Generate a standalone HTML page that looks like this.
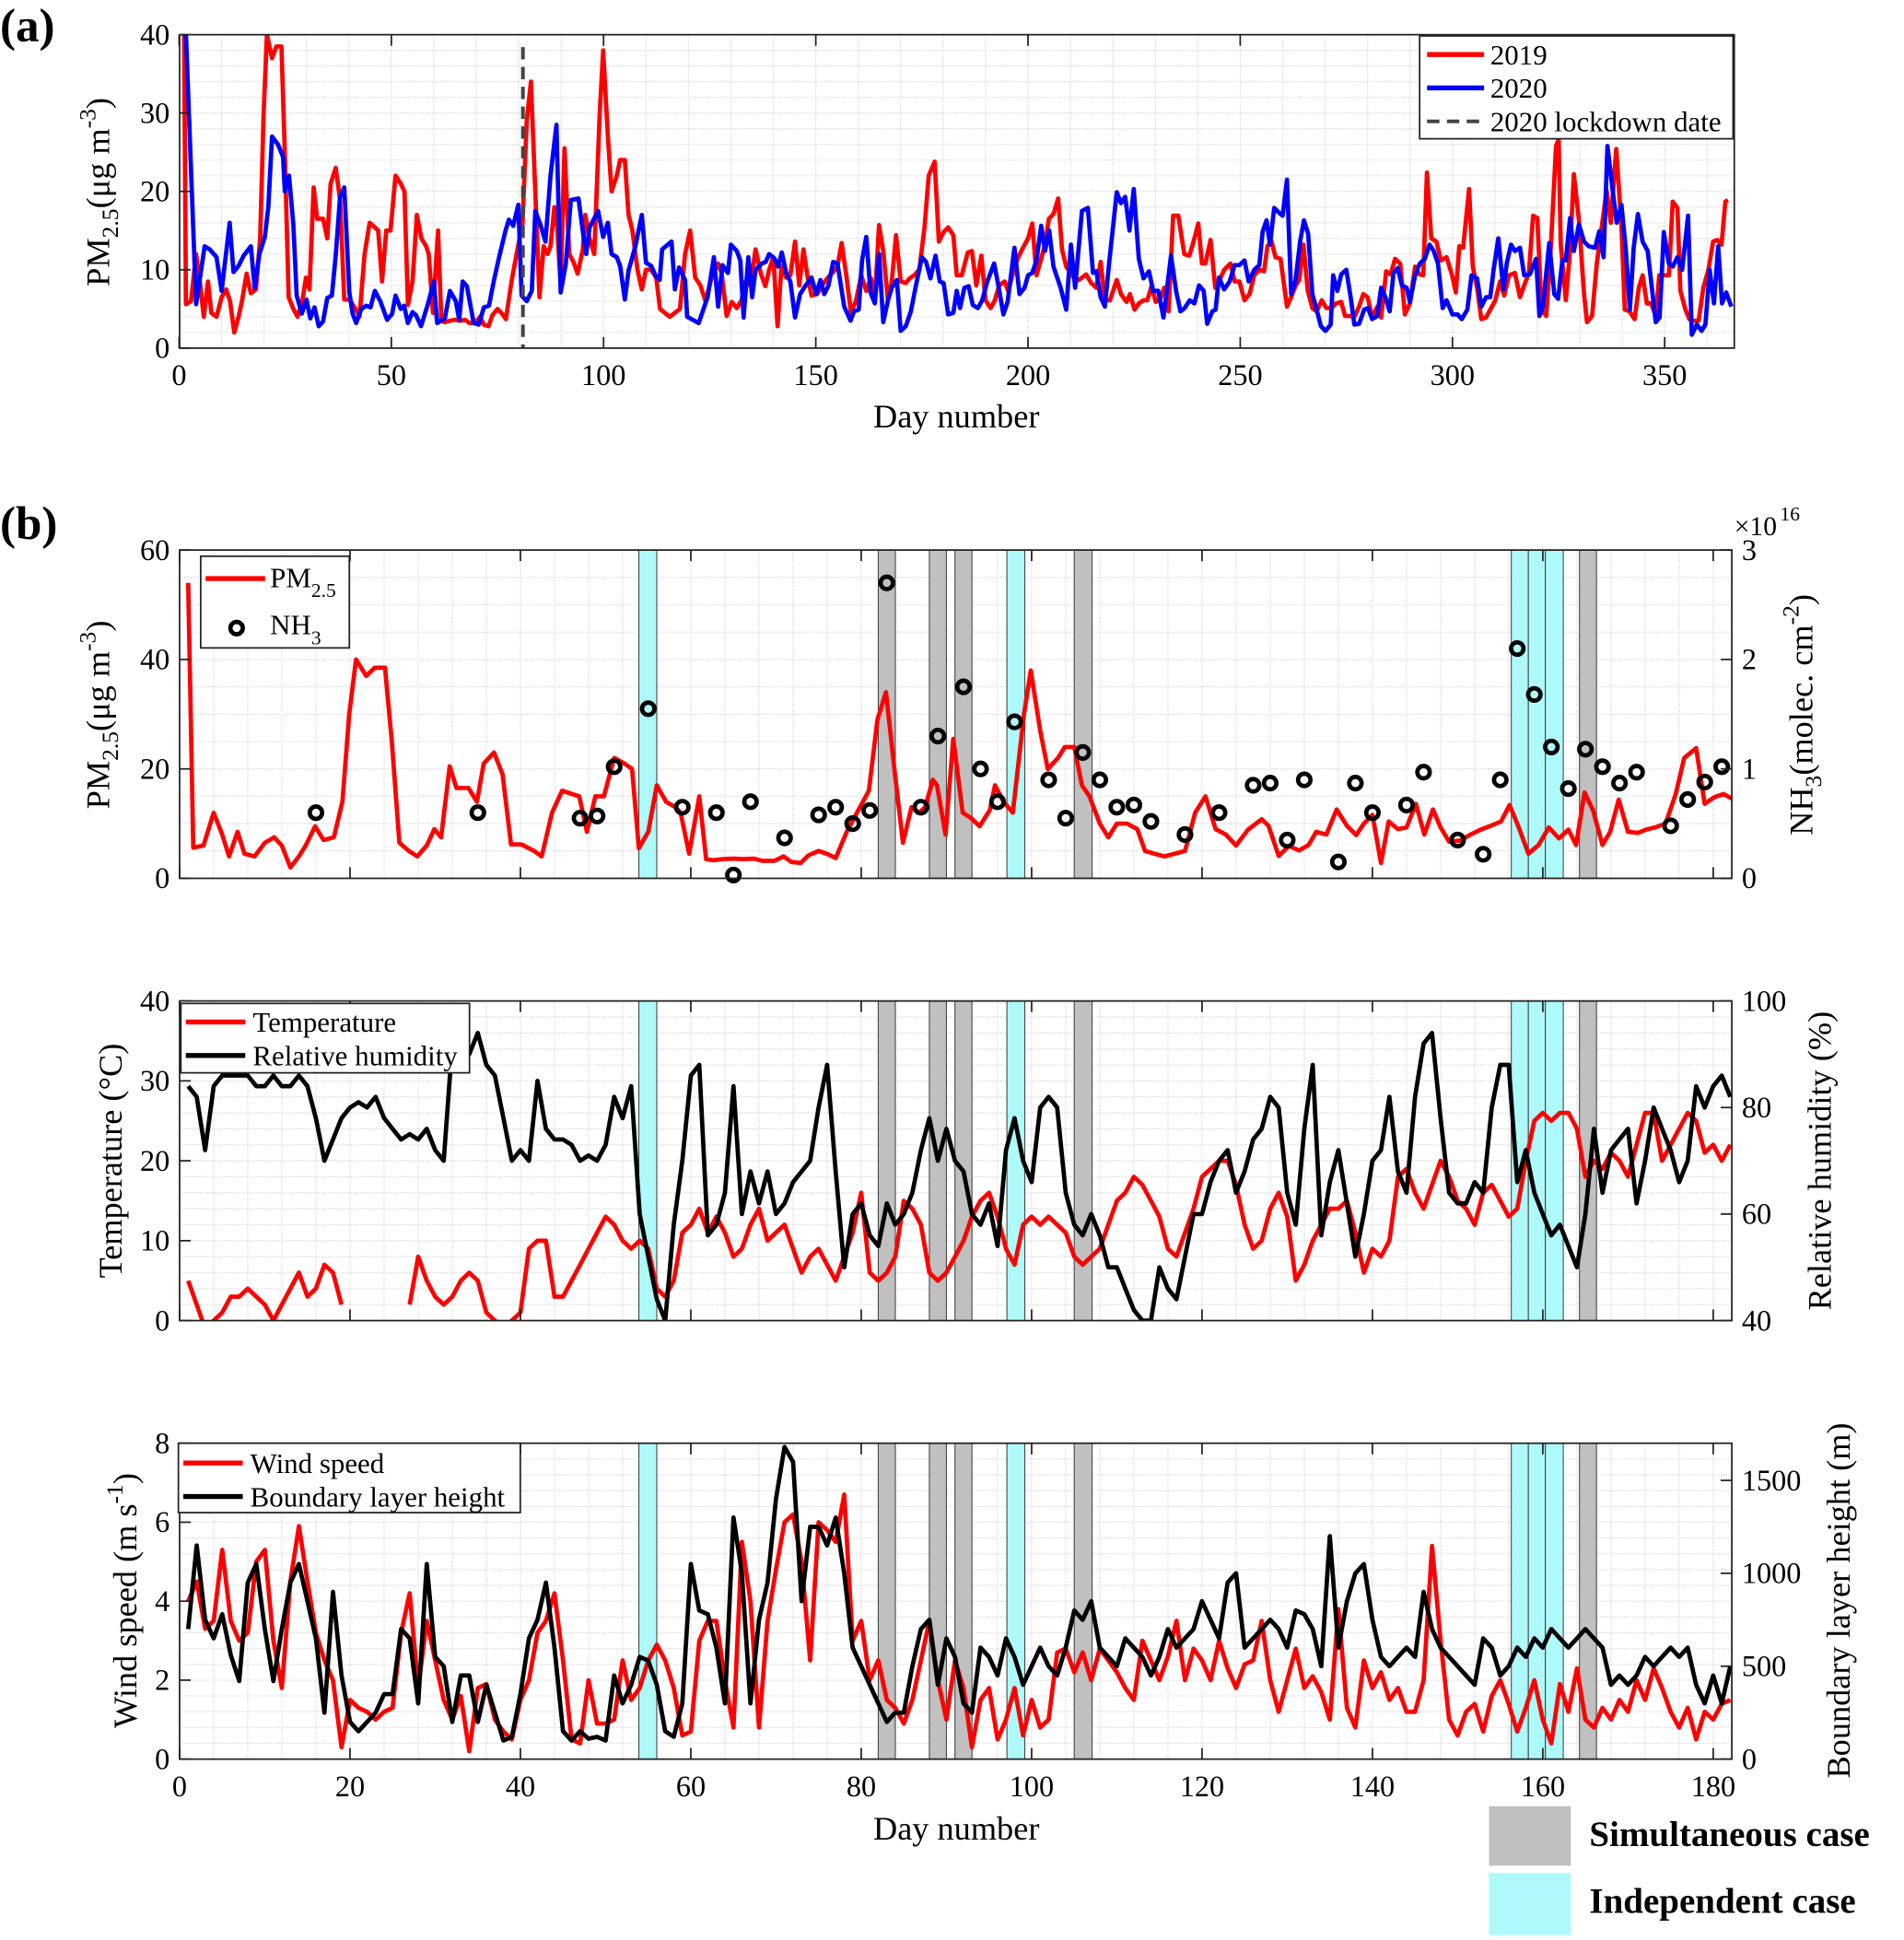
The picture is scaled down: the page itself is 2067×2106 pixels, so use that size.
<!DOCTYPE html>
<html><head><meta charset="utf-8"><style>
html,body{margin:0;padding:0;background:#fff}
svg{display:block}
text{font-family:"Liberation Serif",serif;fill:#000}
</style></head><body>
<svg id="chart" width="2067" height="2106" viewBox="0 0 1537 1566" preserveAspectRatio="none" xmlns="http://www.w3.org/2000/svg">
</svg>
<script>
// ---------- DATA ----------
const pm2019Days = [1,1.6,2.8,4,5,5.8,6.8,7.6,8.8,10,11.1,12,13,14,14.8,15.9,16.9,18.1,19.1,19.9,20.7,21.9,22.9,24.1,24.9,25.8,26.9,27.9,29,29.9,30.7,31.7,32.5,33.9,34.9,35.7,36.9,37.9,38.9,40.1,41.6,42.5,43.7,44.9,46.9,47.8,48.8,49.8,51,52.2,53.1,53.9,55,56,57.1,58.2,58.8,59.8,61,61.8,62.6,63.8,65,66.2,67.4,68.4,69.8,70.9,71.8,72.9,73.8,75,76.1,77,78.3,79.5,80.9,81.9,82.9,83.9,84.9,85.9,86.8,87.5,88.4,88.9,89.9,90.8,91.9,92.9,93.9,95.1,95.7,96.7,97.8,99.1,99.9,101,101.9,103.1,103.9,105,105.9,106.8,108,109,110,111.2,112.4,113.3,114.4,115.6,116.8,118,119.2,120.4,121.6,122.8,
124,125.4,127,127.8,129,130.2,131.4,132.5,133.4,134.6,135.8,137,138.1,139,140,141,141.9,143,144,145.1,146.1,147.1,148,149,150.3,151.5,152.7,153.9,155.1,156.1,157.1,158.3,159.5,160.7,161.9,163,163.9,164.9,165.9,167,167.9,168.9,170,171.2,172.1,173.2,174.4,175.6,176.6,178,179,180.1,181.2,182.4,183.2,184.4,185.8,186.8,187.8,189,190,191.2,192.2,193.2,194.5,195.3,196.7,197.7,198.8,200,201,202,203.1,204,204.9,206,207.1,208,209,210.1,211.3,212.5,213.7,214.9,216.1,217.1,218.1,219.3,220.9,221.9,223.2,224,225.1,226.1,227.2,228.1,229.1,230.1,231.2,232.1,233.1,234.2,235.4,236.8,238,239,240.1,241,241.8,243,244.1,245,246.2,247.7,248.7,249.8,251,252.2,253.3,254.5,255.6,256.4,257.4,258.3,259.5,261,262,263,263.9,264.9,265.9,267,268,269.2,270.3,271.5,272.6,273.8,274.7,276,277,278,279,280,281.1,282.3,283.2,284.4,285.4,286.5,287.7,288.8,290,291.2,292.2,293.1,294,295,296.2,297.3,298.6,299.9,300.8,301.6,302.5,303.9,304.8,305.8,306.8,307.9,308.9,310.1,311.2,312.2,313.3,314.7,315.9,316.9,318,319,320,321,322.1,323.2,324.4,325,325.5,326.7,327.7,328.6,329.8,331,331.7,332.9,334,335.2,336.3,337.3,338.6,339.8,340.6,341.7,342.9,343.9,344.8,345.8,346.8,347.9,348.7,349.8,351,351.9,353,353.7,354.9,355.8,356.8,358,359.1,360.3,361.4,362.4,363.4,364.3,364.9];
const pm2019Vals = [54,5.6,6,12,8,4,8.5,4.5,4,6.5,7.5,6,2,4,6,9.5,7,7.5,14,30,40,37,38.5,38.5,25,6.5,5,4,6,9,7.5,20.5,16.5,16.5,14,21,23,19,6.2,6.2,5,4,12,16,15,8.5,15,15,22,21,20,5.5,8.5,17,14,13,12,4.5,15,3.5,3.3,3.5,3.6,3.5,3.6,3.2,3.2,4,3,2.8,4.2,5,4.4,3.7,8.5,12,16,29,34,20,6.5,13,12,13,18,17,8,25.5,12,11,9.5,12.5,17,14,12,30,38,27,20,22,24,24,17,15,10,7.5,10,10,9,5,4.5,4,4.5,5,12,15,9,8,
6,8.9,10.8,9.6,4.1,5.9,5.1,6.1,8.5,8,12.6,9.6,7.9,10,11.6,2.8,10.4,9,9.3,13.6,8,12.6,9.3,6.7,6.9,8,8.9,9.6,10.4,13.4,9.6,4.5,6.1,9.3,7.3,8.9,6.1,15.7,12.4,6.1,8.5,14.4,8.5,8.3,8.9,9.3,10,15.4,22,23.8,13.6,14.8,15.4,14.4,9.3,9.3,12.2,12.4,8,11.8,6.1,5.1,6.1,8,8.5,7.3,10,11.6,12.8,14,15.9,9.3,11.4,13.2,16.5,17.1,19.1,12.6,10.4,9.6,8.5,8.9,9.4,8.3,7.7,11,6.1,6.1,8.7,6.9,5.9,6.9,4.9,5.7,6.1,6.1,7.9,5.9,6.3,7.7,4.7,16.9,16.9,12,11.8,13.6,15.9,10.8,10.8,13.8,7.7,8.5,10,10.8,8.5,8.5,6.1,6.9,9.3,10,9.8,13,13.6,11.6,11.4,5.3,6.5,7.9,8.7,13.2,7.3,5.1,4.7,6.1,5.1,5.1,5.7,5.9,4.1,4.1,4.1,5.3,6.9,6.5,3.9,5.3,3.9,9.8,9.4,11.4,10.8,4.3,5.7,10.4,9.4,9.3,22.4,14,13.6,11.2,11.6,9.3,7.1,13,12.8,20.3,10.4,7.7,3.7,3.9,4.9,6.1,8.5,6.7,9.3,9.6,6.5,8,9.6,16.9,16.6,4.9,4.1,13.2,25.8,26.6,13.2,6.1,12.4,22.2,16.3,6.9,3.3,4.1,10.8,15.6,20.1,16,25.4,15.6,4.9,4.7,3.7,7.7,9.3,5.7,5.7,4.1,9.3,9.3,9.3,18.7,17.9,7.3,4.9,3.7,3.5,3.5,7.7,10,13.6,13.8,13.2,18.7,18.9];
const pm2020Days = [1,1.6,4,6,7.2,8.8,10,11.9,12.8,14,15.2,16.9,17.8,18.9,20.2,21,21.9,23.3,24.5,24.9,25.9,26.9,27.7,28.9,30,30.9,31.9,32.9,33.9,34.9,36,36.9,37.9,38.9,40.1,40.9,41.7,42.9,44.1,45.1,46.1,47.4,49,50.2,51,52.2,53,53.9,55,55.8,57,58.6,60,60.8,62.6,63.8,65.2,66,66.8,67.8,69.4,70.6,71.8,73,74.2,75.4,76.9,77.7,78.7,79.9,80.7,81.9,83.1,83.9,85.1,86.3,87.5,88.9,89.9,91.1,92.3,94.1,95.1,95.9,96.7,98.7,99.9,101,101.9,103.1,103.9,105,105.9,107.5,109,110,111.2,112.4,113.2,113.8,116,116.8,117.8,119.2,119.7,122.4,
124.5,126,127,128,129.3,130,131.4,132.2,133,134.1,135,135.8,137.3,138.2,139,140.3,141.1,142,143,144,145.1,146.3,147.5,149,150.1,151.1,152,153,154.1,155.1,156.7,158.2,159,160.1,160.9,161.9,162.9,163.9,164.9,165.9,167,167.9,169.1,170,171.2,172.4,173.6,175,176,177,178.2,179.2,180.1,181.2,182.4,183.2,184,185,186,187,188.2,189.2,190.4,192,193,194.2,195.2,196.8,198,199.2,200,201,202,203.1,204,205,206,207.7,209,210.1,211.1,212.7,214.1,215.3,216.1,217.1,218.1,219.1,220.9,221.9,222.9,223.9,224.9,226.1,227.2,228.5,229.5,230.7,231.9,233.7,234.9,235.9,236.9,238.1,239.2,240.3,241.4,242.2,243.4,244.2,245,246.2,247.5,248.7,249.8,251,252,253.3,254.5,255.3,256.2,257,258,259.1,260,261,262,263,264.1,265,266,267,268,269,270.1,271.3,271.9,272.9,273.8,275,276,276.9,278,279.2,280.1,281.1,282.3,283.2,284.2,285.2,286.1,287.1,288.1,289.2,290,291.2,292.3,293.5,294.6,295.6,296.6,297.7,298.6,300,301.2,302.2,303.5,304.5,305.8,306.8,307.9,308.9,309.7,310.8,312,312.8,313.8,314.7,315.9,316.9,318.2,319.7,320.5,321.3,322.8,324,324.9,325.9,326.7,327.7,328.6,329.8,331,332.1,333.6,334.6,335.6,336.5,337.7,338.7,339.8,340.8,341.8,342.7,343.7,344.8,346,347.9,348.8,349.8,351,351.9,353,354.1,355.5,356.4,357.6,358.7,359.6,360.6,361.6,362.6,363.5,364.5,365.7];
const pm2020Vals = [40,40,5.6,13,12.6,11.6,7.3,16,9.7,10.5,11.8,13,7.7,12,14.2,18,27,26,24.4,20,22,15.8,6.7,4.4,6.2,3.8,5.2,2.8,3.4,6.4,6.7,11.8,19.3,20.5,7.1,4.4,3.2,5,5.4,5.2,7.3,6,3.6,4.4,6.7,5,5.4,3.2,4.6,4.2,2.8,5.6,8.5,3.2,3.8,7.3,6,3.6,8.5,7.9,3.2,3,5.2,5.4,8.7,11.6,15,16.4,15.6,18.3,6.7,6,7.3,17.5,15.8,13.6,22,28.5,7.1,10.7,18.9,19.1,15,12,15.4,17.5,14.2,16,12,11.6,10.5,6.2,9.9,13,17,10.9,10.5,9.1,8.7,12.6,13.6,7.5,10.3,8.7,4,3.2,
6.5,11.6,5.3,10.6,9.6,13.2,12.4,11.2,3.9,11.6,6.5,10,10.8,11,12,11.4,10.4,12.2,9.6,8.5,3.9,6.9,7.9,9,6.9,8.7,6.9,8,11,10.8,5.3,3.5,4.7,4.9,11.2,14.2,7.1,5.7,12,3.3,6.1,7.7,8.7,2.2,2.8,4.7,8,11.6,11,8.9,11.8,8.5,8.3,4.3,4.5,7.3,5.1,7.7,7.9,5.5,5.1,6.1,8.5,10.8,8,4.3,5.9,12.8,6.9,7.7,9.3,9.6,11.2,15.6,12.4,15,10.4,7.7,4.9,13.2,7.7,17.5,17.9,9.6,9.8,6.5,5.3,10.8,19.9,18.5,19.3,15,20.3,11.4,8.9,9.8,7.3,7.3,3.9,11.8,7.3,4.7,5.1,6.1,5.7,8,7.3,3.1,4.7,4.9,9,7.5,8.5,10.6,10.6,11.2,8.5,10,10.6,14.9,16.3,13.2,17.9,17.3,16.9,21.5,6.9,8.5,13.6,16.3,14.6,6.9,4.9,2.8,2.2,3,9.3,7.3,9.4,10,6.5,3,3.1,4.9,5.1,3.7,4.1,7.7,6.5,4.7,9.6,10.2,8,7.7,5.9,9.3,10.8,11.4,13.2,12.4,10.8,5.1,6.1,4.3,4.3,3.7,4.9,9.3,8.9,5.3,6.5,6.5,10,14,7.5,10.8,13.2,12.4,12.8,9.3,9.4,11.4,4.1,5.3,13.4,6.9,6.3,11.2,11.2,16.6,12.4,15.8,13.6,13,12.8,14.9,11.6,25.8,20.3,16,18.3,12.8,4.9,12.8,17.1,13.6,12.4,3.3,3.9,14.8,10.8,10.4,11.6,10,16.9,1.7,3,2.2,3,10,5.7,13,5.7,7.1,5.3];
const nh3Days = [16,35,47,49,51,55,59,63,65,67,71,75,77,79,81,83,87,89,92,94,96,98,102,104,106,108,110,112,114,118,122,126,128,130,132,136,138,140,144,146,150,153,155,157,159,161,163,165,167,169,171,175,177,179,181];
const nh3Vals = [0.6,0.6,0.55,0.57,1.02,1.55,0.65,0.6,0.03,0.7,0.37,0.58,0.65,0.5,0.62,2.7,0.65,1.3,1.75,1.0,0.7,1.43,0.9,0.55,1.15,0.9,0.65,0.67,0.52,0.4,0.6,0.85,0.87,0.35,0.9,0.15,0.87,0.6,0.67,0.97,0.35,0.22,0.9,2.1,1.68,1.2,0.82,1.18,1.02,0.87,0.97,0.48,0.72,0.88,1.02];
const temp = [5,2,-1,0,1,3,3,4,3,2,0,2,4,6,3,4,7,6,2,null,null,null,null,null,null,null,2,8,5,3,2,3,5,6,5,1,0,-1,0,1,
9,10,10,3,3,5,7,9,11,13,12,10,9,10,9,4,3,5,11,12,14,11,13,11,8,9,12,14,10,11,12,9,6,8,9,7,5,8,11,16,
6,5,6,8,15,14,12,6,5,6,8,10,13,15,16,13,9,7,12,13,12,13,12,11,8,7,8,9,12,15,16,18,17,15,13,9,8,11,14,18,
19,20,20,17,12,9,10,14,16,13,5,7,10,12,14,14,15,11,6,9,8,10,18,19,16,14,17,20,18,15,14,12,16,17,15,13,14,20,25,26,
25,26,26,24,18,20,19,21,20,18,22,26,26,20,22,24,26,25,21,22,20,22];
const rh = [84,82,72,84,86,86,86,86,84,84,86,84,84,86,84,78,70,74,78,80,81,80,82,78,76,74,75,74,76,72,70,92,92,90,94,88,86,78,70,72,
70,85,76,74,74,73,70,71,70,73,82,78,84,60,52,44,40,58,70,86,88,56,58,64,84,60,68,62,68,60,62,66,68,70,80,88,68,50,60,62,
56,54,62,58,60,64,72,78,70,76,70,68,60,58,62,54,72,78,70,66,80,82,80,64,58,56,60,56,50,50,46,42,40,40,50,46,44,52,60,60,
66,70,72,64,68,74,76,82,80,64,58,76,88,56,66,72,62,52,60,70,72,82,68,64,82,92,94,78,64,62,62,66,64,80,88,88,66,72,64,60,
56,58,54,50,60,76,64,72,74,76,62,70,80,76,72,66,70,84,80,84,86,82];
const wind = [4.0,4.5,3.3,3.5,5.3,3.5,3.0,3.2,5.0,5.3,3.0,1.8,4.5,5.9,4.5,3.2,2.5,2.0,0.3,1.5,1.3,1.2,1.0,1.2,1.3,3.2,4.2,1.8,3.5,2.5,1.5,1.0,1.6,0.2,1.8,1.9,1.0,0.7,0.5,1.5,
2.0,3.2,3.5,4.2,2.5,0.5,0.4,2.0,0.9,0.9,1.0,2.5,1.5,1.8,2.5,2.9,2.5,1.8,0.6,0.7,3.0,3.5,3.5,2.0,0.8,5.5,4.0,0.8,3.5,4.8,6.0,6.2,5.0,2.5,6.0,5.8,5.5,6.7,3.0,3.5,
2.0,2.5,1.5,1.3,0.9,1.5,2.5,3.5,2.0,1.0,2.5,1.8,0.3,1.5,1.8,0.5,1.0,1.8,0.6,1.5,0.8,1.0,2.7,2.8,2.2,2.7,2.0,2.8,2.5,2.2,1.8,1.5,3.0,2.5,2.0,2.6,3.5,2.0,2.8,2.5,
2.0,3.0,2.3,1.8,2.4,2.5,3.5,2.0,1.2,2.0,2.8,1.8,2.1,1.7,1.0,3.8,1.3,0.8,2.5,1.8,2.2,1.5,1.8,1.2,1.2,2.0,5.4,3.0,1.0,0.6,1.2,1.4,0.7,1.6,2.0,1.4,0.7,1.3,2.0,1.0,
0.4,1.9,1.2,2.3,1.0,0.8,1.3,1.0,1.5,1.2,2.0,1.5,2.3,1.8,1.2,0.8,1.3,0.5,1.2,1.0,1.4,1.5];
const blh = [700,1150,750,650,780,560,420,950,1050,700,420,700,950,1050,850,650,250,900,450,200,150,200,250,350,350,700,650,300,1050,550,500,200,450,450,200,400,250,100,120,350,
650,750,950,600,150,100,150,110,120,100,450,300,400,550,530,400,150,120,300,1050,800,780,600,300,1300,1000,300,750,950,1400,1680,1600,850,1250,1250,1150,1300,1000,600,500,
400,300,200,250,250,500,700,750,400,650,550,300,250,600,550,450,650,550,400,500,600,500,450,600,800,750,850,600,550,500,650,600,550,450,550,700,600,650,700,850,
750,650,950,1000,600,650,700,750,700,600,800,780,700,500,1200,600,850,1000,1050,750,550,500,550,600,550,900,700,600,550,500,450,400,650,600,450,500,600,550,650,600,
700,650,600,650,700,650,600,400,450,400,450,550,500,550,600,550,600,400,300,450,300,500];
const grayStart = [82,88,91,105,164.3];
const grayEnd = [84,90,93,107.1,166.3];
const cyanStart = [53.9,97.1,156.3,158.3,160.3];
const cyanEnd = [56,99.2,158.3,160.3,162.4];
const ticksA = [0,50,100,150,200,250,300,350];
const ticksB = [0,20,40,60,80,100,120,140,160,180];

// ---------- HELPERS ----------
const NS="http://www.w3.org/2000/svg";
const svg=document.getElementById('chart');
function mk(tag,attrs,parent,txt){const e=document.createElementNS(NS,tag);for(const k in attrs)e.setAttribute(k,attrs[k]);if(txt!==undefined)e.textContent=txt;(parent||svg).appendChild(e);return e;}
function scale(d0,d1,r0,r1){return v=>r0+(v-d0)*(r1-r0)/(d1-d0);}
function linePath(xs,ys,fx,fy){let d='',pen=false;for(let i=0;i<ys.length;i++){if(ys[i]===null||ys[i]===undefined){pen=false;continue;}d+=(pen?'L':'M')+fx(xs[i]).toFixed(1)+','+fy(ys[i]).toFixed(1);pen=true;}return d;}
function frame(g,x0,x1,y0,y1,fx,dmin,dmax,xminor,fy,ymin,ymax,yminor){
  for(let d=dmin;d<=dmax;d+=xminor){const x=fx(d);mk('line',{x1:x,x2:x,y1:y0,y2:y1,stroke:'#dcdcdc','stroke-width':1,'stroke-dasharray':'1,1'},g);}
  for(let v=ymin;v<=ymax+1e-9;v+=yminor){const y=fy(v);mk('line',{x1:x0,x2:x1,y1:y,y2:y,stroke:'#dcdcdc','stroke-width':1,'stroke-dasharray':'1,1'},g);}
}
function border(g,x0,x1,y0,y1){mk('rect',{x:x0,y:y0,width:x1-x0,height:y1-y0,fill:'none',stroke:'#222','stroke-width':1.3},g);}
function xticks(g,ticks,fx,y0,y1,labels){ticks.forEach(t=>{const x=fx(t);mk('line',{x1:x,x2:x,y1:y1,y2:y1-9,stroke:'#222','stroke-width':1.3},g);mk('line',{x1:x,x2:x,y1:y0,y2:y0+9,stroke:'#222','stroke-width':1.3},g);if(labels){const tx=mk('text',{x:x,y:y1+30,'font-size':24,'text-anchor':'middle'},g,String(t));}});}
function yticksL(g,vals,fy,x0){vals.forEach(v=>{const y=fy(v);mk('line',{x1:x0,x2:x0+9,y1:y,y2:y,stroke:'#222','stroke-width':1.3},g);const t=mk('text',{x:x0-8,y:y+8,'font-size':24,'text-anchor':'end'},g,String(v));});}
function yticksR(g,vals,labels,fy,x1){vals.forEach((v,i)=>{const y=fy(v);mk('line',{x1:x1,x2:x1-9,y1:y,y2:y,stroke:'#222','stroke-width':1.3},g);const t=mk('text',{x:x1+8,y:y+8,'font-size':24,'text-anchor':'start'},g,labels[i]);});}
function bands(g,fx,y0,y1){
  grayStart.forEach((s,i)=>{const r=mk('rect',{x:fx(s),y:y0,width:fx(grayEnd[i])-fx(s),height:y1-y0,fill:'#c0c0c0',stroke:'#444','stroke-width':0.8},g);});
  cyanStart.forEach((s,i)=>{const r=mk('rect',{x:fx(s),y:y0,width:fx(cyanEnd[i])-fx(s),height:y1-y0,fill:'#aefafa',stroke:'#444','stroke-width':0.8},g);});
}
const days=n=>Array.from({length:n},(_,i)=>i+1);

// ---------- PANEL A ----------
(function(){
  const g=mk('g',{});
  
  
  const x0=145,x1=1400,y0=28,y1=281;
  const fx=scale(0,366.4,144.6,1400), fy=scale(0,40,281,28);
  frame(g,x0,x1,y0,y1,fx,0,366,10,fy,0,40,2);
  const clip=mk('clipPath',{id:'ca'},g);mk('rect',{x:x0,y:y0,width:x1-x0,height:y1-y0},clip);
  const a=mk('path',{d:linePath(pm2019Days,pm2019Vals,fx,fy),fill:'none',stroke:'#ff0000','stroke-width':3.5,'clip-path':'url(#ca)','stroke-linejoin':'round'},g);
  
  const b=mk('path',{d:linePath(pm2020Days,pm2020Vals,fx,fy),fill:'none',stroke:'#0000ff','stroke-width':3.5,'clip-path':'url(#ca)','stroke-linejoin':'round'},g);
  
  const lk=mk('line',{x1:fx(81),x2:fx(81),y1:y0+10,y2:y1,stroke:'#444','stroke-width':3,'stroke-dasharray':'10,6'},g);
  
  border(g,x0,x1,y0,y1);
  xticks(g,ticksA,fx,y0,y1,true);
  yticksL(g,[0,10,20,30,40],fy,x0);
  const xl=mk('text',{x:772,y:345,'font-size':27,'text-anchor':'middle'},g,'Day number');
  const yl=mk('text',{transform:'translate(88,155) rotate(-90)','font-size':27,'text-anchor':'middle'},g);
  yl.innerHTML='PM<tspan font-size="19" dy="7">2.5</tspan><tspan dy="-7">(μg m</tspan><tspan font-size="19" dy="-11">-3</tspan><tspan dy="11">)</tspan>';
  
  const lg=mk('g',{},g);
  mk('rect',{x:1146,y:29,width:253,height:83,fill:'#fff',stroke:'#222','stroke-width':1.3},lg);
  mk('line',{x1:1152,x2:1198,y1:44,y2:44,stroke:'#ff0000','stroke-width':4},lg);
  mk('text',{x:1203,y:52,'font-size':23},lg,'2019');
  mk('line',{x1:1152,x2:1198,y1:71,y2:71,stroke:'#0000ff','stroke-width':4},lg);
  mk('text',{x:1203,y:79,'font-size':23},lg,'2020');
  mk('line',{x1:1152,x2:1198,y1:98,y2:98,stroke:'#444','stroke-width':3,'stroke-dasharray':'10,6'},lg);
  mk('text',{x:1203,y:106,'font-size':23},lg,'2020 lockdown date');
  const pl=mk('text',{x:0,y:33,'font-size':38,'font-weight':'bold'},g,'(a)');
})();

// ---------- PANEL B common ----------
const fxb=scale(0,180,145,1383);
const bx0=145,bx1=1398;
// B1
(function(){
  const g=mk('g',{});
  const y0=444,y1=709;const fy=scale(0,60,709,444), fr=scale(0,3,709,444);
  frame(g,bx0,bx1,y0,y1,fxb,0,182,4,fy,0,60,5);
  bands(g,fxb,y0,y1);
  const clip=mk('clipPath',{id:'cb1'},g);mk('rect',{x:bx0,y:y0,width:bx1-bx0,height:y1-y0},clip);
  const p=mk('path',{d:linePath(pm2019Days,pm2019Vals,fxb,fy),fill:'none',stroke:'#ff0000','stroke-width':3.5,'clip-path':'url(#cb1)','stroke-linejoin':'round'},g);
  
  nh3Days.forEach((d,i)=>{const c=mk('circle',{cx:fxb(d),cy:fr(nh3Vals[i]),r:5,fill:'none',stroke:'#000','stroke-width':3.5},g);});
  border(g,bx0,bx1,y0,y1);
  xticks(g,ticksB,fxb,y0,y1,false);
  yticksL(g,[0,20,40,60],fy,bx0);
  yticksR(g,[0,1,2,3],['0','1','2','3'],fr,bx1);
  const mult=mk('text',{x:1400,y:432,'font-size':22},g,'×10');
  mk('text',{x:1437,y:420,'font-size':16},g,'16');
  const yl=mk('text',{transform:'translate(88,577) rotate(-90)','font-size':27,'text-anchor':'middle'},g);
  yl.innerHTML='PM<tspan font-size="19" dy="7">2.5</tspan><tspan dy="-7">(μg m</tspan><tspan font-size="19" dy="-11">-3</tspan><tspan dy="11">)</tspan>';
  
  const yr=mk('text',{transform:'translate(1463,577) rotate(-90)','font-size':27,'text-anchor':'middle'},g);
  yr.innerHTML='NH<tspan font-size="19" dy="7">3</tspan><tspan dy="-7">(molec. cm</tspan><tspan font-size="19" dy="-11">-2</tspan><tspan dy="11">)</tspan>';
  
  const lg=mk('g',{},g);
  mk('rect',{x:162,y:449,width:120,height:74,fill:'#fff',stroke:'#222','stroke-width':1.3},lg);
  mk('line',{x1:166,x2:214,y1:467,y2:467,stroke:'#ff0000','stroke-width':4},lg);
  const t1=mk('text',{x:218,y:474,'font-size':23},lg);t1.innerHTML='PM<tspan font-size="16" dy="8">2.5</tspan>';
  mk('circle',{cx:191,cy:507,r:5,fill:'none',stroke:'#000','stroke-width':3.5},lg);
  const t2=mk('text',{x:218,y:512,'font-size':23},lg);t2.innerHTML='NH<tspan font-size="16" dy="8">3</tspan>';
  const pl=mk('text',{x:0,y:435,'font-size':38,'font-weight':'bold'},g,'(b)');
})();
// B2
(function(){
  const g=mk('g',{});
  const y0=808,y1=1066;const fy=scale(0,40,1066,808), fr=scale(40,100,1066,808);
  frame(g,bx0,bx1,y0,y1,fxb,0,182,4,fy,0,40,2);
  bands(g,fxb,y0,y1);
  const clip=mk('clipPath',{id:'cb2'},g);mk('rect',{x:bx0,y:y0,width:bx1-bx0,height:y1-y0},clip);
  const t=mk('path',{d:linePath(days(temp.length),temp,fxb,fy),fill:'none',stroke:'#ff0000','stroke-width':3.5,'clip-path':'url(#cb2)','stroke-linejoin':'round'},g);
  
  const r=mk('path',{d:linePath(days(rh.length),rh,fxb,fr),fill:'none',stroke:'#000','stroke-width':3.5,'clip-path':'url(#cb2)','stroke-linejoin':'round'},g);
  
  border(g,bx0,bx1,y0,y1);
  xticks(g,ticksB,fxb,y0,y1,false);
  yticksL(g,[0,10,20,30,40],fy,bx0);
  yticksR(g,[40,60,80,100],['40','60','80','100'],fr,bx1);
  const yl=mk('text',{transform:'translate(98,937) rotate(-90)','font-size':27,'text-anchor':'middle'},g,'Temperature (°C)');
  const yr=mk('text',{transform:'translate(1478,937) rotate(-90)','font-size':27,'text-anchor':'middle'},g,'Relative humidity (%)');
  const lg=mk('g',{},g);
  mk('rect',{x:146,y:810,width:233,height:56,fill:'#fff',stroke:'#222','stroke-width':1.3},lg);
  mk('line',{x1:150,x2:198,y1:825,y2:825,stroke:'#ff0000','stroke-width':4},lg);
  mk('text',{x:204,y:833,'font-size':23},lg,'Temperature');
  mk('line',{x1:150,x2:198,y1:852,y2:852,stroke:'#000','stroke-width':4},lg);
  mk('text',{x:204,y:860,'font-size':23},lg,'Relative humidity');
})();
// B3
(function(){
  const g=mk('g',{});
  const y0=1165,y1=1420;const fy=scale(0,8,1420,1165), fr=scale(0,1700,1420,1165);
  frame(g,bx0,bx1,y0,y1,fxb,0,182,4,fy,0,8,0.4);
  bands(g,fxb,y0,y1);
  const clip=mk('clipPath',{id:'cb3'},g);mk('rect',{x:bx0,y:y0,width:bx1-bx0,height:y1-y0},clip);
  const w=mk('path',{d:linePath(days(wind.length),wind,fxb,fy),fill:'none',stroke:'#ff0000','stroke-width':3.5,'clip-path':'url(#cb3)','stroke-linejoin':'round'},g);
  
  const b=mk('path',{d:linePath(days(blh.length),blh,fxb,fr),fill:'none',stroke:'#000','stroke-width':3.5,'clip-path':'url(#cb3)','stroke-linejoin':'round'},g);
  
  border(g,bx0,bx1,y0,y1);
  xticks(g,ticksB,fxb,y0,y1,true);
  yticksL(g,[0,2,4,6,8],fy,bx0);
  yticksR(g,[0,500,1000,1500],['0','500','1000','1500'],fr,bx1);
  const xl=mk('text',{x:772,y:1485,'font-size':27,'text-anchor':'middle'},g,'Day number');
  const yl=mk('text',{transform:'translate(110,1292) rotate(-90)','font-size':27,'text-anchor':'middle'},g);
  yl.innerHTML='Wind speed (m s<tspan font-size="19" dy="-11">-1</tspan><tspan dy="11">)</tspan>';
  
  const yr=mk('text',{transform:'translate(1493,1292) rotate(-90)','font-size':27,'text-anchor':'middle'},g,'Boundary layer height (m)');
  const lg=mk('g',{},g);
  mk('rect',{x:144,y:1165,width:276,height:56,fill:'#fff',stroke:'#222','stroke-width':1.3},lg);
  mk('line',{x1:148,x2:196,y1:1181,y2:1181,stroke:'#ff0000','stroke-width':4},lg);
  mk('text',{x:202,y:1189,'font-size':23},lg,'Wind speed');
  mk('line',{x1:148,x2:196,y1:1208,y2:1208,stroke:'#000','stroke-width':4},lg);
  mk('text',{x:202,y:1216,'font-size':23},lg,'Boundary layer height');
})();
// Case legend
(function(){
  const g=mk('g',{});
  mk('rect',{x:1202,y:1458,width:66,height:48,fill:'#c0c0c0'},g);
  mk('text',{x:1283,y:1490,'font-size':29,'font-weight':'bold'},g,'Simultaneous case');
  mk('rect',{x:1202,y:1512,width:66,height:50,fill:'#aefafa'},g);
  mk('text',{x:1283,y:1544,'font-size':29,'font-weight':'bold'},g,'Independent case');
})();
</script>
</body></html>
